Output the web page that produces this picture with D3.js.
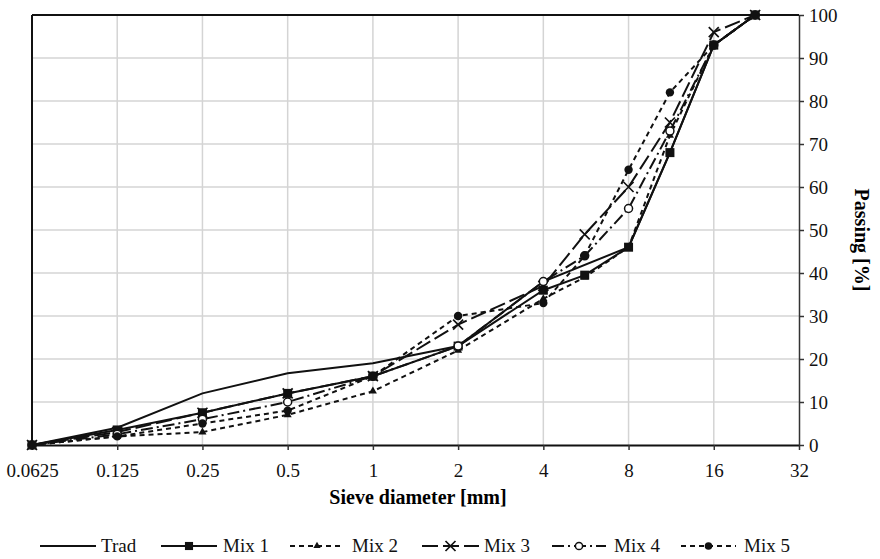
<!DOCTYPE html>
<html>
<head>
<meta charset="utf-8">
<script src="https://cdn.jsdelivr.net/npm/d3@7"></script>
<style>
  body { margin: 0; background: #fff; }
  svg text { font-family: "Liberation Serif", "DejaVu Serif", serif; }
</style>
</head>
<body>
<svg id="chart" width="880" height="559"></svg>
<script>
const MARGIN = { TOP: 15, BOTTOM: 114, LEFT: 32, RIGHT: 81 };
const W = 880, H = 559;
const width = W - MARGIN.LEFT - MARGIN.RIGHT;
const height = H - MARGIN.TOP - MARGIN.BOTTOM;
const FONT = "'Liberation Serif', 'DejaVu Serif', serif";

// sieve sizes (mm)
var sieves = [0.0625, 0.125, 0.25, 0.5, 1, 2, 4, 5.6, 8, 11.2, 16, 22.4];
var xTicks = [0.0625, 0.125, 0.25, 0.5, 1, 2, 4, 8, 16, 32];
var yTicks = [0, 10, 20, 30, 40, 50, 60, 70, 80, 90, 100];

// passing [%]
var trad = [0, 4, 12, 16.7, 19, 23, 38, null, 46, 68, 93, 100];
var mix1 = [0, 3.5, 7.5, 12, 16, 23, 36, 39.5, 46, 68, 93, 100];
var mix2 = [0, 2, 3, 7, 12.5, 22, 34, 39, 46, 72, 93, 100];
var mix3 = [0, 3, 7.5, 12, 16, 28, 37, 49, 60, 75, 96, 100];
var mix4 = [0, 2.5, 6, 10, 16, 23, 38, 44, 55, 73, 93, 100];
var mix5 = [0, 2, 5, 8, 16, 30, 33, 44, 64, 82, 93, 100];

var series = [
  { name: "Trad", values: trad, dash: null, marker: null },
  { name: "Mix 1", values: mix1, dash: null, marker: "square" },
  { name: "Mix 2", values: mix2, dash: "5,4", marker: "triangle" },
  { name: "Mix 3", values: mix3, dash: "16,5", marker: "cross" },
  { name: "Mix 4", values: mix4, dash: "12,4,2,4", marker: "open" },
  { name: "Mix 5", values: mix5, dash: "5,4", marker: "circle" }
];

var svg = d3.select("#chart");
var g = svg.append("g")
  .attr("transform", "translate(" + MARGIN.LEFT + "," + MARGIN.TOP + ")");

var x = d3.scaleLog().base(2).domain([0.0625, 32]).range([0, width]);
var y = d3.scaleLinear().domain([0, 100]).range([height, 0]);

// grid
g.append("g").selectAll("line").data(xTicks.slice(1, -1)).enter().append("line")
  .attr("x1", d => x(d)).attr("x2", d => x(d))
  .attr("y1", 0).attr("y2", height)
  .attr("stroke", "#d4d4d4").attr("stroke-width", 1.5);
g.append("g").selectAll("line").data(yTicks.slice(1, -1)).enter().append("line")
  .attr("x1", 0).attr("x2", width)
  .attr("y1", d => y(d)).attr("y2", d => y(d))
  .attr("stroke", "#d4d4d4").attr("stroke-width", 1.5);

// axes
var xAxis = g.append("g")
  .attr("transform", "translate(0," + height + ")")
  .call(d3.axisBottom(x).tickValues(xTicks).tickFormat(d => String(d)).tickSize(5).tickSizeOuter(0));
xAxis.attr("font-family", FONT);
xAxis.select(".domain").attr("stroke", "#111").attr("stroke-width", 2);
xAxis.selectAll(".tick line").attr("stroke", "#333").attr("stroke-width", 1.5);
xAxis.selectAll("text").attr("font-size", 19).attr("fill", "#111").attr("y", 0).attr("dy", 0)
  .attr("transform", "translate(0,32)");

var yAxis = g.append("g")
  .attr("transform", "translate(" + width + ",0)")
  .call(d3.axisRight(y).tickValues(yTicks).tickSize(5).tickSizeOuter(0));
yAxis.attr("font-family", FONT);
yAxis.select(".domain").attr("stroke", "#333").attr("stroke-width", 1.5);
yAxis.selectAll(".tick line").attr("stroke", "#333").attr("stroke-width", 1.5);
yAxis.selectAll("text").attr("font-size", 19).attr("fill", "#111").attr("x", 10);

// left and top frame
g.append("line").attr("x1", 0).attr("x2", 0).attr("y1", 0).attr("y2", height)
  .attr("stroke", "#111").attr("stroke-width", 2);
g.append("line").attr("x1", 0).attr("x2", width).attr("y1", 0).attr("y2", 0)
  .attr("stroke", "#111").attr("stroke-width", 2);

// axis titles
svg.append("text")
  .attr("x", 418).attr("y", 504)
  .attr("font-family", FONT)
  .attr("text-anchor", "middle").attr("font-size", 20).attr("font-weight", "bold")
  .text("Sieve diameter [mm]");
svg.append("text")
  .attr("transform", "translate(855,240) rotate(90)")
  .attr("font-family", FONT)
  .attr("text-anchor", "middle").attr("font-size", 20).attr("font-weight", "bold")
  .text("Passing [%]");

// markers
function drawMarker(sel, type, size) {
  var s = size || 1;
  if (type === "square") {
    sel.append("rect").attr("x", -4.5 * s).attr("y", -4.5 * s).attr("width", 9 * s).attr("height", 9 * s).attr("fill", "#111");
  } else if (type === "triangle") {
    sel.append("path").attr("d", d3.symbol(d3.symbolTriangle, 28 * s * s)).attr("fill", "#111");
  } else if (type === "cross") {
    sel.append("path").attr("d", "M-5,-5L5,5M-5,5L5,-5")
      .attr("stroke", "#111").attr("stroke-width", 1.7).attr("fill", "none");
  } else if (type === "open") {
    sel.append("circle").attr("r", 4 * s).attr("fill", "#fff").attr("stroke", "#111").attr("stroke-width", 1.5);
  } else if (type === "circle") {
    sel.append("circle").attr("r", 4.2 * s).attr("fill", "#111");
  }
}

var line = d3.line()
  .x(d => x(d.s)).y(d => y(d.v));

series.forEach(function(sr) {
  var pts = sieves.map((s, i) => ({ s: s, v: sr.values[i] })).filter(d => d.v != null);
  g.append("path").datum(pts)
    .attr("d", line)
    .attr("fill", "none").attr("stroke", "#111").attr("stroke-width", 2)
    .attr("stroke-dasharray", sr.dash);
  if (sr.marker) {
    g.append("g").selectAll("g").data(pts).enter().append("g")
      .attr("transform", d => "translate(" + x(d.s) + "," + y(d.v) + ")")
      .each(function() { drawMarker(d3.select(this), sr.marker); });
  }
});

// legend
var legendItems = [
  { x0: 40, x1: 96, tx: 101 },
  { x0: 161, x1: 217, tx: 223 },
  { x0: 290, x1: 344, tx: 352 },
  { x0: 422, x1: 479, tx: 484 },
  { x0: 552, x1: 606, tx: 614 },
  { x0: 681, x1: 736, tx: 744 }
];
var lg = svg.append("g");
series.forEach(function(sr, i) {
  var it = legendItems[i];
  var yy = 546;
  lg.append("line").attr("x1", it.x0).attr("x2", it.x1).attr("y1", yy).attr("y2", yy)
    .attr("stroke", "#111").attr("stroke-width", 2.2).attr("stroke-dasharray", sr.dash);
  if (sr.marker) {
    var m = lg.append("g").attr("transform", "translate(" + ((it.x0 + it.x1) / 2) + "," + yy + ")");
    drawMarker(m, sr.marker, 0.9);
  }
  lg.append("text").attr("x", it.tx).attr("y", yy + 6)
    .attr("font-family", FONT)
    .attr("font-size", 19).attr("fill", "#111").text(sr.name);
});
</script>
</body>
</html>
